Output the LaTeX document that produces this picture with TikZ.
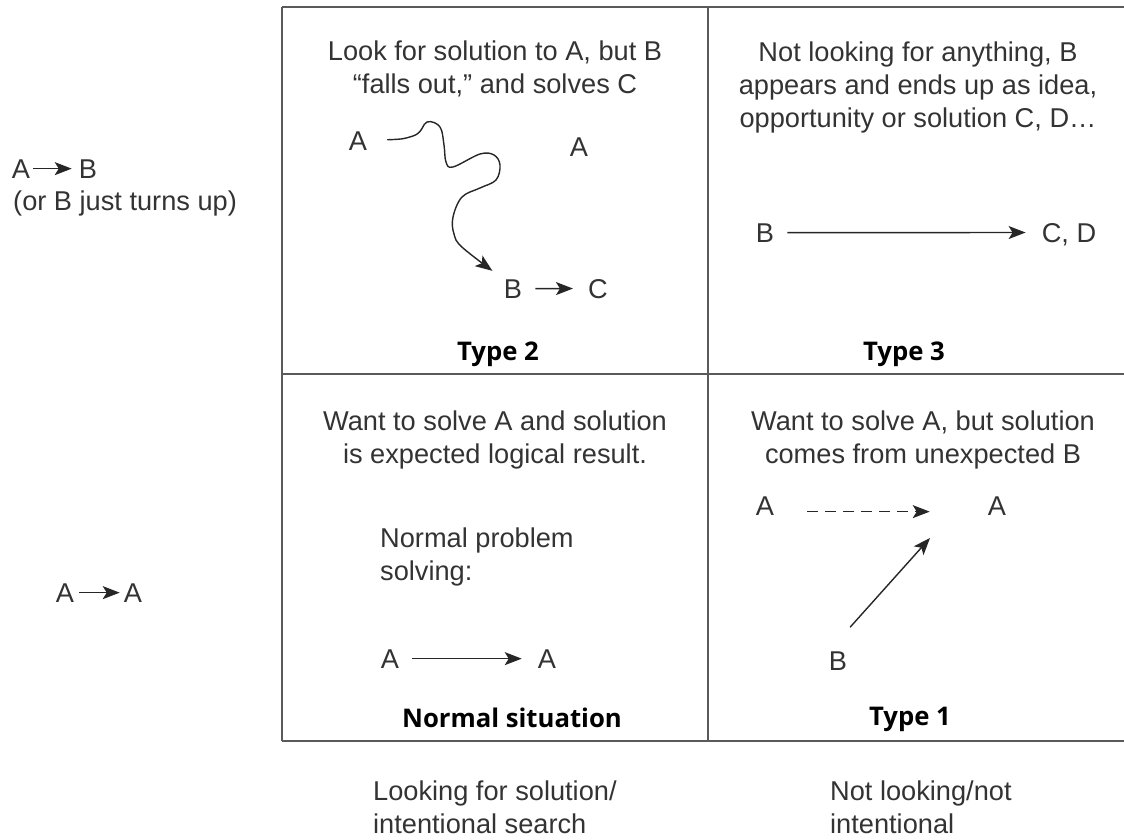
\documentclass[tikz,border=0pt]{standalone}
\usepackage{fontspec}
\setmainfont{Liberation Sans}
\newfontfamily\typefont{Open Sans}
\usepackage{tikz}
\usetikzlibrary{arrows.meta, positioning}
\definecolor{ink}{HTML}{333333}
\definecolor{rule}{HTML}{5A5A5A}
\tikzstyle{letter} = [inner sep=0pt, text depth=0pt, text=ink]
\tikzstyle{caption} = [inner sep=0pt, align=center, text=ink, anchor=base]
\tikzstyle{side} = [inner sep=0pt, align=left, text=ink, anchor=base west]
\tikzstyle{typelabel} = [inner sep=0pt, anchor=base, font=\typefont\bfseries\fontsize{25.7}{30}\selectfont]
\tikzstyle{arrow} = [->, line width=1.4pt, draw=black!85]

\begin{document}
\begin{tikzpicture}[x=1pt, y=-1pt, >={Stealth[length=17pt,width=13pt,inset=4pt]},
  every node/.style={font=\fontsize{27.2}{33}\selectfont}]
  \useasboundingbox (0,0) rectangle (1124,840);
  % grid
  \draw[rule, line width=1.6pt] (282,7) -- (1124,7) (282,374) -- (1124,374) (282,741) -- (1124,741);
  \draw[rule, line width=1.6pt] (282,7) -- (282,741) (708,7) -- (708,741);

  % left labels
  \node[letter, anchor=base] (abA) at (21,178) {A};
  \node[letter, anchor=base] (abB) at (88,178) {B};
  \node[side] (turnsup) at (13,210) {(or B just turns up)};
  \draw[arrow, shorten <=3pt, shorten >=7pt] (abA) -- (abB);
  \node[letter, anchor=base] (aaA) at (65,602) {A};
  \node[letter, anchor=base] (aaB) at (133,602) {A};
  \draw[arrow, shorten <=5pt, shorten >=4pt] (aaA) -- (aaB);

  % type 2
  \node[caption] (text2) at (495,94) {Look for solution to A, but B\\“falls out,” and solves C};
  \node[letter, anchor=base] (a2) at (358,150) {A};
  \node[letter, anchor=base] (a2r) at (579,157) {A};
  \node[letter, anchor=base] (b2) at (513,298) {B};
  \node[letter, anchor=base] (c2) at (598,298) {C};
  \draw[arrow, shorten <=20pt, shorten >=14pt] plot[smooth, tension=0.6] coordinates {(a2.east) (413,136) (427,122) (440,127) (444,145) (446,162) (453,167) (480,154) (494,155) (500,165) (496,180) (480,188) (462,197) (453,217) (454,234) (463,248) (b2.north west)};
  \draw[arrow, shorten <=13pt, shorten >=15pt] (b2) -- (c2);
  \node[typelabel] (type2) at (498,360) {Type 2};

  % type 3
  \node[caption] (text3) at (918,128) {Not looking for anything, B\\appears and ends up as idea,\\opportunity or solution C, D…};
  \node[letter, anchor=base] (b3) at (765,242) {B};
  \node[letter, anchor=base] (cd3) at (1069,242) {C, D};
  \draw[arrow, shorten <=13pt, shorten >=16pt] (b3) -- (cd3);
  \node[typelabel] (type3) at (904,360) {Type 3};

  % normal situation
  \node[caption] (text0) at (495,463) {Want to solve A and solution\\is expected logical result.};
  \node[side] (normal) at (380,580) {Normal problem\\solving:};
  \node[letter, anchor=base] (a0) at (390,668) {A};
  \node[letter, anchor=base] (a0r) at (547,668) {A};
  \draw[arrow, shorten <=13pt, shorten >=16pt] (a0) -- (a0r);
  \node[typelabel] (type0) at (512,727) {Normal situation};

  % type 1
  \node[caption] (text1) at (923,463) {Want to solve A, but solution\\comes from unexpected B};
  \node[letter, anchor=base] (a1) at (765,515) {A};
  \node[letter, anchor=base] (a1r) at (997,515) {A};
  \node[letter, anchor=base] (b1) at (838,670) {B};
  \coordinate (hit) at (930,538);
  \draw[arrow, dash pattern=on 11pt off 7pt, shorten <=33pt, shorten >=58pt] ([yshift=-6pt]a1.east) -- ([yshift=-6pt]a1r.west);
  \draw[arrow, shorten <=32pt] (b1.north west) -- (hit);
  \node[typelabel] (type1) at (910,725) {Type 1};

  % bottom labels
  \node[side] (looking) at (373,833) {Looking for solution/\\intentional search};
  \node[side] (notlooking) at (830,833) {Not looking/not\\intentional};
\end{tikzpicture}
\end{document}
